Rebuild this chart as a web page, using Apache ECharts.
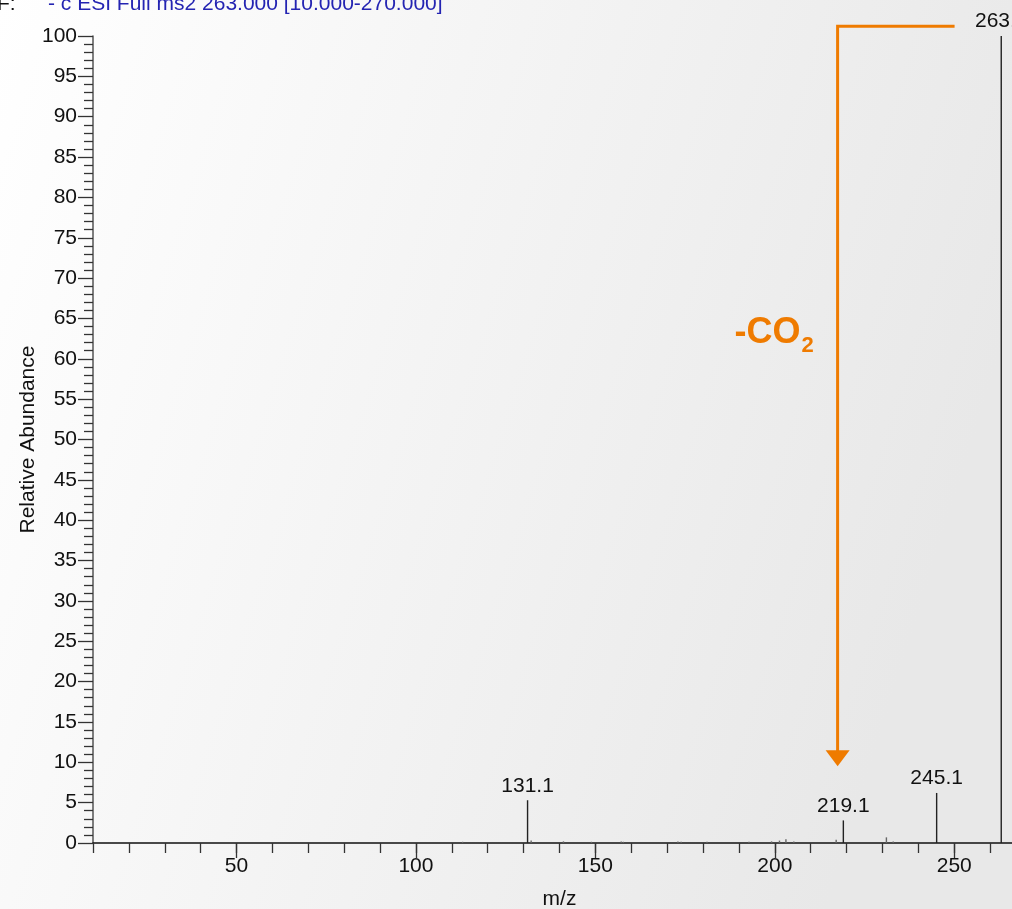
<!DOCTYPE html>
<html>
<head>
<meta charset="utf-8">
<title>MS2 spectrum 263.000</title>
<script src="https://cdn.jsdelivr.net/npm/echarts@6/dist/echarts.min.js"></script>
<style>
  html, body { margin: 0; padding: 0; }
  #chart { width: 1012px; height: 909px; }
</style>
</head>
<body>
<div id="chart"></div>
<script>
// Fragment ions: m/z and relative abundance (%)
const peakMz     = [113.0, 131.1, 132.1, 141.1, 148.9, 157.2, 157.8, 173.0, 173.9, 181.1, 192.8, 199.1, 201.3, 203.1, 205.3, 217.1, 219.1, 231.1, 233.0, 245.1, 263.1];
const peakAbund  = [0.15,  5.3,   0.3,   0.2,   0.15,  0.2,   0.15,  0.2,   0.15,  0.15,  0.15,  0.2,   0.3,   0.45,  0.2,   0.4,   2.8,   0.7,   0.2,   6.2,   100];
// Peaks that carry an m/z label
const labeledMz  = [131.1, 219.1, 245.1, 263.1];

// Axis ticks
const xMin = 10, xMax = 270;
const xLabelValues = [50, 100, 150, 200, 250];
const yMin = 0, yMax = 100, yStep = 5;

// Scan header
const scanPrefix = 'F:';
const scanFilter = '- c ESI Full ms2 263.000 [10.000-270.000]';

// Neutral loss annotation (-CO2): from parent level across and down to the fragment
const lossFromMz = 250.1, lossAtMz = 217.5, lossTopY = 101.2, lossTipY = 9.5;

const FONT = '"Liberation Sans", Arial, sans-serif';
const FS = 21;
const ORANGE = '#ef7b00';

const chart = echarts.init(document.getElementById('chart'), null, { renderer: 'canvas' });

const labeledSet = new Set(labeledMz.map(String));
const data = peakMz.map((m, i) => [m, peakAbund[i], labeledSet.has(String(m)) ? 1 : 0]);

const option = {
  animation: false,
  backgroundColor: new echarts.graphic.LinearGradient(0, 0, 1, 0.35, [
    { offset: 0, color: '#ffffff' },
    { offset: 1, color: '#e8e8e8' }
  ]),
  textStyle: { fontFamily: FONT },
  // the plot area runs past the right edge of the page, so the top of the range is cut off
  grid: { left: 93, width: 933, top: 36, height: 807, containLabel: false, outerBoundsMode: 'none' },
  xAxis: [{
    type: 'value', min: xMin, max: xMax, interval: 10,
    name: 'm/z', nameLocation: 'middle', nameGap: 46,
    nameTextStyle: { color: '#111', fontSize: FS, fontFamily: FONT },
    axisLine: { show: true, onZero: false, lineStyle: { color: '#111', width: 1.5 } },
    axisTick: { show: true, length: 10, lineStyle: { color: '#333', width: 1.3 } },
    axisLabel: {
      color: '#111', fontSize: FS, fontFamily: FONT, margin: 13,
      formatter: v => (xLabelValues.indexOf(v) >= 0 ? String(v) : '')
    },
    splitLine: { show: false }
  }, {
    type: 'value', min: xMin, max: xMax, position: 'bottom',
    axisLine: { show: false },
    axisTick: { show: true, length: 15, customValues: xLabelValues, lineStyle: { color: '#333', width: 1.3 } },
    axisLabel: { show: false },
    splitLine: { show: false }
  }],
  yAxis: {
    type: 'value', min: yMin, max: yMax, interval: yStep,
    name: 'Relative Abundance', nameLocation: 'middle', nameGap: 54, nameRotate: 90,
    nameMoveOverlap: false,
    nameTextStyle: { color: '#111', fontSize: FS, fontFamily: FONT },
    axisLine: { show: true, lineStyle: { color: '#555', width: 1.5 } },
    axisTick: { show: true, length: 15, lineStyle: { color: '#333', width: 1.3 } },
    minorTick: { show: true, splitNumber: 5, length: 9, lineStyle: { color: '#333', width: 1.3 } },
    axisLabel: { color: '#111', fontSize: FS, fontFamily: FONT, margin: 16 },
    splitLine: { show: false },
    minorSplitLine: { show: false }
  },
  series: [{
    type: 'custom',
    xAxisIndex: 0, yAxisIndex: 0,
    clip: false,
    data: data,
    renderItem: function (params, api) {
      const m = api.value(0), a = api.value(1), lab = api.value(2);
      const top = api.coord([m, a]);
      const base = api.coord([m, 0]);
      const children = [{
        type: 'line',
        shape: { x1: top[0], y1: top[1], x2: base[0], y2: base[1] },
        style: { stroke: a > 1 ? '#222' : '#666', lineWidth: 1.4 }
      }];
      if (lab) {
        children.push({
          type: 'text',
          x: top[0], y: top[1] - 4,
          style: {
            text: m.toFixed(1), fill: '#111', font: FS + 'px ' + FONT,
            align: 'center', verticalAlign: 'bottom'
          }
        });
      }
      return { type: 'group', children: children };
    }
  }]
};

chart.setOption(option);

// Scan header and -CO2 annotation, positioned through the axes
function drawOverlay() {
  const toPx = v => chart.convertToPixel({ xAxisIndex: 0, yAxisIndex: 0 }, v);
  const p0 = toPx([lossFromMz, lossTopY]);
  const p1 = toPx([lossAtMz, lossTopY]);
  const tip = toPx([lossAtMz, lossTipY]);
  const headLen = 16, headHalf = 12;
  const lbl = toPx([lossAtMz, 65]);

  chart.setOption({
    graphic: [
      { type: 'text', x: -3, y: 15, z: 10,
        style: { text: scanPrefix, fill: '#111', font: FS + 'px ' + FONT, verticalAlign: 'bottom' } },
      { type: 'text', x: 48, y: 15, z: 10,
        style: { text: scanFilter, fill: '#2424b2', font: FS + 'px ' + FONT, verticalAlign: 'bottom' } },
      { type: 'polyline', z: 10,
        shape: { points: [[p0[0], p0[1]], [p1[0], p1[1]], [tip[0], tip[1] - headLen + 2]] },
        style: { stroke: ORANGE, lineWidth: 3, fill: null } },
      { type: 'polygon', z: 10,
        shape: { points: [[tip[0] - headHalf, tip[1] - headLen], [tip[0] + headHalf, tip[1] - headLen], [tip[0], tip[1]]] },
        style: { fill: ORANGE } },
      { type: 'text', x: lbl[0] - 37, y: lbl[1] - 3, z: 10,
        style: { text: '-CO', fill: ORANGE, font: 'bold 36px ' + FONT, align: 'right', verticalAlign: 'top' } },
      { type: 'text', x: lbl[0] - 36, y: lbl[1] + 16, z: 10,
        style: { text: '2', fill: ORANGE, font: 'bold 22px ' + FONT, align: 'left', verticalAlign: 'top' } }
    ]
  });
}
drawOverlay();
</script>
</body>
</html>
